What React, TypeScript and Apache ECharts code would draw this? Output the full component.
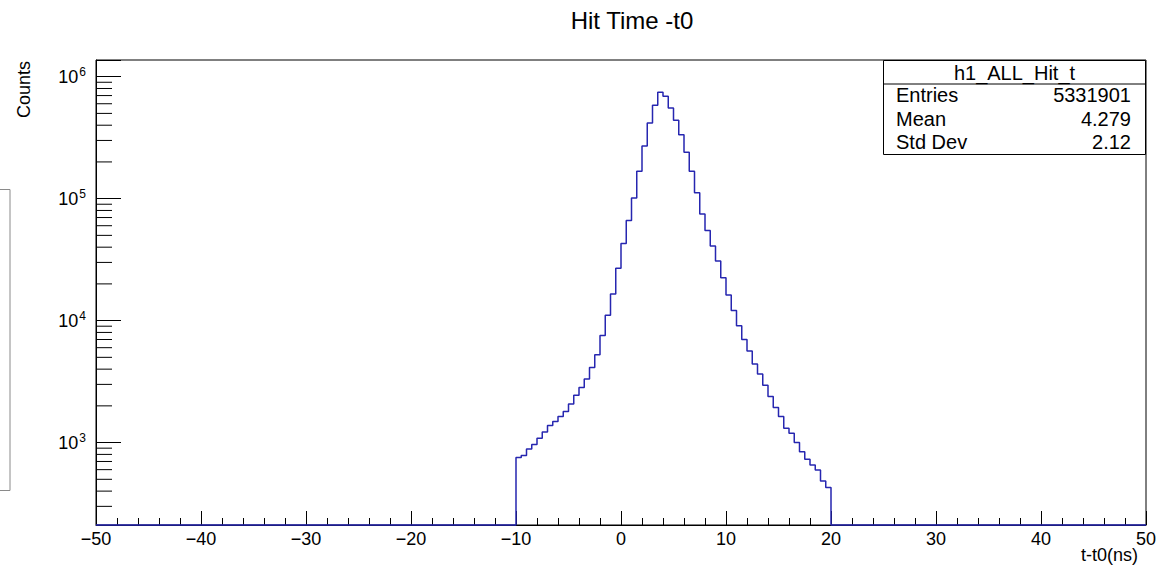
import React, { useEffect, useRef } from "react";
import * as echarts from "echarts";

// ---- data ----
const X_MIN = -50;
const X_MAX = 50;
const X_INTERVAL = 10;
const Y_MIN = 211;
const Y_MAX = 1.37e6;

const BIN_LOW = -10; // lower edge of first filled bin (ns)
const BIN_WIDTH = 0.5; // ns
const COUNTS = [
  753, 782, 888, 963, 1086, 1224, 1378, 1486, 1634, 1795,
  2075, 2447, 2825, 3328, 4119, 5262, 7534, 11070, 16560, 26900,
  42950, 66050, 101400, 167800, 270400, 417300, 582900, 745300, 690900, 553800,
  439400, 334800, 240100, 167800, 112000, 74940, 54690, 40960, 30850, 22510,
  16240, 12080, 9058, 6985, 5646, 4416, 3657, 2953, 2383, 1936,
  1634, 1312, 1194, 1000, 843, 731, 656, 597, 485, 428,
];

const Y_DECADES = [100, 1000, 10000, 100000, 1000000];
const Y_MINOR_MULTS = [2, 3, 4, 5, 6, 7, 8, 9];

const TITLE = "Hit Time -t0";
const X_TITLE = "t-t0(ns)";
const Y_TITLE = "Counts";
const STAT_NAME = "h1_ALL_Hit_t";
const STAT_LABELS = ["Entries", "Mean", "Std Dev"];
const STAT_VALUES = ["5331901", "4.279", "2.12"];

const FONT = "'Liberation Sans', Arial, Helvetica, sans-serif";
const LINE_COLOR = "#2626b0";

export default function App() {
  const ref = useRef<HTMLDivElement>(null);

  useEffect(() => {
    if (!ref.current) return;
    const chart = echarts.init(ref.current, undefined, { renderer: "svg" });

    // histogram outline points (left bin edges, step 'end')
    const linePts: number[][] = [[X_MIN, Y_MIN]];
    COUNTS.forEach((c, i) => {
      linePts.push([BIN_LOW + i * BIN_WIDTH, Math.max(c, Y_MIN)]);
    });
    linePts.push([BIN_LOW + COUNTS.length * BIN_WIDTH, Y_MIN]);
    linePts.push([X_MAX, Y_MIN]);

    const minorVals: number[][] = [];
    Y_DECADES.forEach((d) => {
      Y_MINOR_MULTS.forEach((m) => {
        const v = d * m;
        if (v > Y_MIN && v < Y_MAX) minorVals.push([X_MIN, v]);
      });
    });

    const statX0 = 883;
    const statX1 = 1146;
    const statY0 = 60;
    const statH = 94;
    const rowH = statH / 4;

    const graphics: any[] = [
      {
        type: "text",
        x: 632,
        y: 20,
        style: {
          text: TITLE,
          font: `24px ${FONT}`,
          fill: "#000",
          textAlign: "center",
          textVerticalAlign: "middle",
        },
      },
      {
        type: "text",
        x: 24,
        y: 61,
        rotation: Math.PI / 2,
        style: {
          text: Y_TITLE,
          font: `18px ${FONT}`,
          fill: "#000",
          textAlign: "right",
          textVerticalAlign: "middle",
        },
      },
      {
        type: "text",
        x: 1138,
        y: 555,
        style: {
          text: X_TITLE,
          font: `18px ${FONT}`,
          fill: "#000",
          textAlign: "right",
          textVerticalAlign: "middle",
        },
      },
      {
        type: "rect",
        shape: { x: -2, y: 189.5, width: 12, height: 301 },
        style: { fill: "none", stroke: "#8a8a8a", lineWidth: 1 },
      },
      {
        type: "rect",
        z: 100,
        shape: { x: statX0 + 0.5, y: statY0 + 0.5, width: statX1 - statX0 - 1, height: statH },
        style: { fill: "#fff", stroke: "#000", lineWidth: 1 },
      },
      {
        type: "line",
        z: 101,
        shape: { x1: statX0, y1: statY0 + rowH + 0.5, x2: statX1, y2: statY0 + rowH + 0.5 },
        style: { stroke: "#000", lineWidth: 1 },
      },
      {
        type: "text",
        z: 101,
        x: (statX0 + statX1) / 2,
        y: statY0 + rowH / 2 + 1,
        style: {
          text: STAT_NAME,
          font: `20px ${FONT}`,
          fill: "#000",
          textAlign: "center",
          textVerticalAlign: "middle",
        },
      },
    ];
    STAT_LABELS.forEach((lab, i) => {
      const y = statY0 + rowH * (i + 1.5);
      graphics.push({
        type: "text",
        z: 101,
        x: 896,
        y,
        style: { text: lab, font: `20px ${FONT}`, fill: "#000", textAlign: "left", textVerticalAlign: "middle" },
      });
      graphics.push({
        type: "text",
        z: 101,
        x: 1131,
        y,
        style: { text: STAT_VALUES[i], font: `20px ${FONT}`, fill: "#000", textAlign: "right", textVerticalAlign: "middle" },
      });
    });

    chart.setOption({
      animation: false,
      backgroundColor: "#fff",
      grid: {
        left: 96,
        right: 26,
        top: 60,
        bottom: 42,
        show: true,
        borderColor: "#000",
        borderWidth: 1,
        backgroundColor: "transparent",
      },
      xAxis: {
        type: "value",
        min: X_MIN,
        max: X_MAX,
        interval: X_INTERVAL,
        axisLine: { show: true, onZero: false, lineStyle: { color: "#000", width: 1 } },
        axisTick: { show: true, inside: true, length: 14, lineStyle: { color: "#000" } },
        minorTick: { show: true, splitNumber: 5, length: 7, lineStyle: { color: "#000" } },
        splitLine: { show: false },
        axisLabel: {
          color: "#000",
          fontSize: 18,
          fontFamily: FONT,
          margin: 5,
          formatter: (v: number) => String(v).replace("-", "\u2212"),
        },
      },
      yAxis: {
        type: "log",
        logBase: 10,
        min: Y_MIN,
        max: Y_MAX,
        axisLine: { show: true, onZero: false, lineStyle: { color: "#000", width: 1 } },
        axisTick: { show: true, inside: true, length: 25, lineStyle: { color: "#000" } },
        splitLine: { show: false },
        axisLabel: {
          color: "#000",
          fontSize: 18,
          fontFamily: FONT,
          margin: 10,
          formatter: (v: number) => {
            const e = Math.log10(v);
            const r = Math.round(e);
            if (Math.abs(e - r) < 1e-6) return `10{s|${r}}`;
            return "";
          },
          rich: {
            s: { fontSize: 12, fontFamily: FONT, color: "#000", verticalAlign: "top", padding: [0, 0, 10, 1] },
          },
        },
      },
      series: [
        {
          type: "custom",
          silent: true,
          coordinateSystem: "cartesian2d",
          data: minorVals,
          renderItem: (params: any, api: any) => {
            const p = api.coord([api.value(0), api.value(1)]);
            return {
              type: "line",
              shape: { x1: p[0], y1: p[1], x2: p[0] + 16, y2: p[1] },
              style: { stroke: "#000", lineWidth: 1 },
            };
          },
          z: 3,
        },
        {
          type: "line",
          data: linePts,
          step: "end",
          showSymbol: false,
          symbol: "none",
          clip: false,
          lineStyle: { color: LINE_COLOR, width: 1.5 },
          z: 5,
        },
      ],
      graphic: graphics,
    });

    return () => chart.dispose();
  }, []);

  return (
    <div
      ref={ref}
      style={{ position: "absolute", left: 0, top: 0, width: 1172, height: 567 }}
    />
  );
}
